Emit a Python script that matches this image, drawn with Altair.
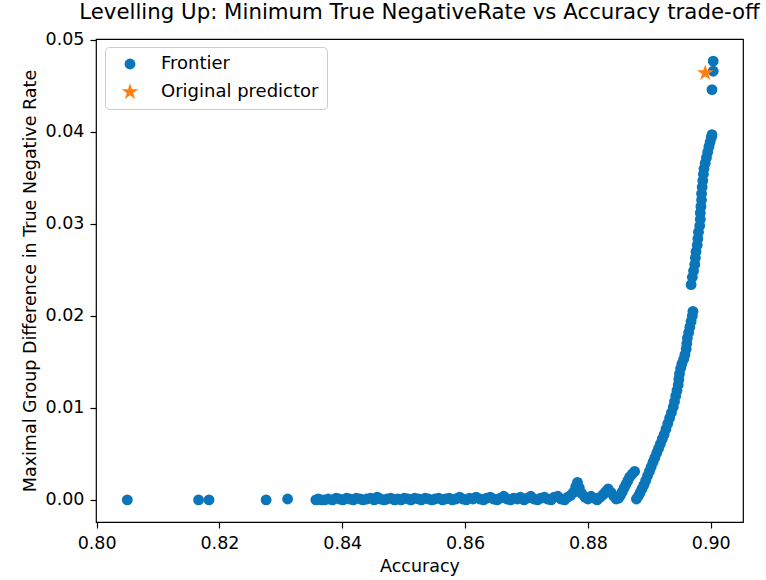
import altair as alt
import pandas as pd

# ---- data ----
isolated_acc = [0.8050, 0.8166, 0.8183, 0.8276, 0.8311]
isolated_diff = [0.0000, 0.0000, 0.0000, 0.0000, 0.0001]

band_acc = [
    0.8357, 0.8361, 0.8366, 0.8371, 0.8377, 0.8384, 0.8390, 0.8395, 0.8401, 0.8407,
    0.8412, 0.8418, 0.8423, 0.8429, 0.8434, 0.8440, 0.8446, 0.8452, 0.8457, 0.8462,
    0.8468, 0.8473, 0.8479, 0.8485, 0.8490, 0.8496, 0.8501, 0.8507, 0.8512, 0.8518,
    0.8524, 0.8529, 0.8535, 0.8540, 0.8546, 0.8551, 0.8557, 0.8563, 0.8568, 0.8574,
    0.8579, 0.8585, 0.8591, 0.8596, 0.8602, 0.8607, 0.8613, 0.8618, 0.8624, 0.8630,
    0.8635, 0.8641, 0.8646, 0.8652, 0.8657, 0.8663, 0.8668, 0.8674, 0.8679, 0.8685,
    0.8690, 0.8696, 0.8701, 0.8707, 0.8712, 0.8718, 0.8723, 0.8729, 0.8734, 0.8740,
    0.8745, 0.8751, 0.8756, 0.8762, 0.8767, 0.8772, 0.8776, 0.8780, 0.8783, 0.8786,
    0.8790, 0.8795, 0.8800, 0.8805, 0.8810, 0.8815, 0.8820, 0.8825, 0.8829, 0.8833,
    0.8838, 0.8842, 0.8846, 0.8850,
]
band_diff = [
    0.0000, 0.0001, 0.0000, 0.0000, 0.0001, 0.0000, 0.0002, 0.0001, 0.0000, 0.0002,
    0.0001, 0.0000, 0.0002, 0.0001, 0.0000, 0.0001, 0.0002, 0.0000, 0.0003, 0.0001,
    0.0000, 0.0001, 0.0002, 0.0000, 0.0001, 0.0000, 0.0002, 0.0001, 0.0000, 0.0002,
    0.0001, 0.0000, 0.0002, 0.0001, 0.0000, 0.0001, 0.0002, 0.0000, 0.0001, 0.0002,
    0.0000, 0.0001, 0.0003, 0.0001, 0.0000, 0.0002, 0.0001, 0.0003, 0.0001, 0.0000,
    0.0002, 0.0003, 0.0001, 0.0000, 0.0002, 0.0004, 0.0001, 0.0000, 0.0002, 0.0001,
    0.0003, 0.0000, 0.0002, 0.0004, 0.0001, 0.0000, 0.0002, 0.0003, 0.0001, 0.0000,
    0.0003, 0.0004, 0.0001, 0.0000, 0.0003, 0.0005, 0.0008, 0.0014, 0.0019, 0.0013,
    0.0007, 0.0003, 0.0001, 0.0004, 0.0002, 0.0000, 0.0003, 0.0006, 0.0009, 0.0012,
    0.0008, 0.0004, 0.0001, 0.0002,
]

branch1_acc = [0.8853, 0.8856, 0.8859, 0.8862, 0.8865, 0.8868, 0.8872, 0.8876]
branch1_diff = [0.0005, 0.0009, 0.0013, 0.0017, 0.0021, 0.0025, 0.0028, 0.0031]

rise_acc = [
    0.8879, 0.8882, 0.8885, 0.8888, 0.8891, 0.8894, 0.8897, 0.8900, 0.8903, 0.8906,
    0.8909, 0.8912, 0.8915, 0.8918, 0.8921, 0.8924, 0.8927, 0.8930, 0.8933, 0.8936,
    0.8939, 0.8941, 0.8943, 0.8945, 0.8947, 0.8948, 0.8949, 0.8951, 0.8953, 0.8956,
    0.8958, 0.8960, 0.8961, 0.8962, 0.8964, 0.8966, 0.8968, 0.8970, 0.8971,
    0.8968, 0.8970, 0.8972, 0.8974, 0.8975, 0.8976, 0.8978, 0.8979, 0.8980, 0.8982,
    0.8983, 0.8983, 0.8984, 0.8985, 0.8985, 0.8986, 0.8987, 0.8988, 0.8989, 0.8991,
    0.8993, 0.8995, 0.8997, 0.8999, 0.9001, 0.9002,
    0.9002, 0.9004, 0.9004,
]
rise_diff = [
    0.0001, 0.0004, 0.0008, 0.0012, 0.0016, 0.0021, 0.0026, 0.0031, 0.0036, 0.0041,
    0.0046, 0.0051, 0.0056, 0.0061, 0.0066, 0.0071, 0.0077, 0.0083, 0.0089, 0.0095,
    0.0101, 0.0107, 0.0113, 0.0119, 0.0125, 0.0131, 0.0137, 0.0143, 0.0148, 0.0153,
    0.0158, 0.0164, 0.0170, 0.0176, 0.0182, 0.0188, 0.0194, 0.0200, 0.0205,
    0.0234, 0.0242, 0.0249, 0.0256, 0.0263, 0.0270, 0.0277, 0.0284, 0.0291, 0.0298,
    0.0305, 0.0312, 0.0319, 0.0326, 0.0333, 0.0340, 0.0347, 0.0354, 0.0360, 0.0366,
    0.0372, 0.0378, 0.0384, 0.0389, 0.0394, 0.0397,
    0.0446, 0.0466, 0.0477,
]

original_acc = [0.8991]
original_diff = [0.0464]

STAR = ("M0,-1L0.2245,-0.309L0.9511,-0.309L0.3633,0.118L0.5878,0.809L0,0.382"
        "L-0.5878,0.809L-0.3633,0.118L-0.9511,-0.309L-0.2245,-0.309Z")

series_names = ["Frontier", "Original predictor"]
series_colors = ["#0a76b9", "#ff7f0e"]
series_shapes = ["circle", STAR]
series_sizes = [118, 300]

x_ticks = [0.80, 0.82, 0.84, 0.86, 0.88, 0.90]
y_ticks = [0.00, 0.01, 0.02, 0.03, 0.04, 0.05]

frontier_acc = isolated_acc + band_acc + branch1_acc + rise_acc
frontier_diff = isolated_diff + band_diff + branch1_diff + rise_diff

df = pd.DataFrame({
    "acc": frontier_acc + original_acc,
    "diff": frontier_diff + original_diff,
    "series": [series_names[0]] * len(frontier_acc) + [series_names[1]] * len(original_acc),
})

FONT = "DejaVu Sans"

legend = alt.Legend(
    orient="none",
    legendX=9,
    legendY=8,
    padding=8,
    fillColor="white",
    strokeColor="#cccccc",
    cornerRadius=4,
    labelFont=FONT,
    labelFontSize=18,
    labelColor="black",
    labelOffset=22,
    symbolOffset=8,
    rowPadding=10,
    symbolStrokeWidth=0,
    symbolOpacity=1,
)

chart = alt.Chart(df).mark_point(filled=True, opacity=1, strokeWidth=0).encode(
    x=alt.X(
        "acc:Q",
        scale=alt.Scale(domain=[0.7999, 0.90525], nice=False, zero=False),
        axis=alt.Axis(values=x_ticks, format=".2f", title="Accuracy", titlePadding=6),
    ),
    y=alt.Y(
        "diff:Q",
        scale=alt.Scale(domain=[-0.0024, 0.0501], nice=False, zero=False),
        axis=alt.Axis(values=y_ticks, format=".2f",
                      title="Maximal Group Difference in True Negative Rate", titlePadding=6),
    ),
    color=alt.Color("series:N", title=None,
                    scale=alt.Scale(domain=series_names, range=series_colors), legend=legend),
    shape=alt.Shape("series:N", title=None,
                    scale=alt.Scale(domain=series_names, range=series_shapes), legend=legend),
    size=alt.Size("series:N", title=None,
                  scale=alt.Scale(domain=series_names, range=series_sizes), legend=legend),
).properties(
    width=647,
    height=483,
    title=alt.TitleParams(
        "Levelling Up: Minimum True NegativeRate vs Accuracy trade-off",
        font=FONT, fontSize=21.3, fontWeight="normal", color="black",
        anchor="middle", offset=8,
    ),
    padding={"left": 96, "top": 39, "right": 23, "bottom": 58},
    autosize="none",
).configure_view(
    stroke="black", strokeWidth=1.2
).configure_axis(
    domain=False, grid=False,
    tickColor="black", tickSize=6, tickWidth=1.2,
    labelFont=FONT, labelFontSize=17.5, labelColor="black", labelPadding=6,
    labelFlush=False, labelOverlap=False,
    titleFont=FONT, titleFontSize=17.5, titleFontWeight="normal", titleColor="black",
)

chart.save("out.html", embed_options={"renderer": "svg", "actions": False})
